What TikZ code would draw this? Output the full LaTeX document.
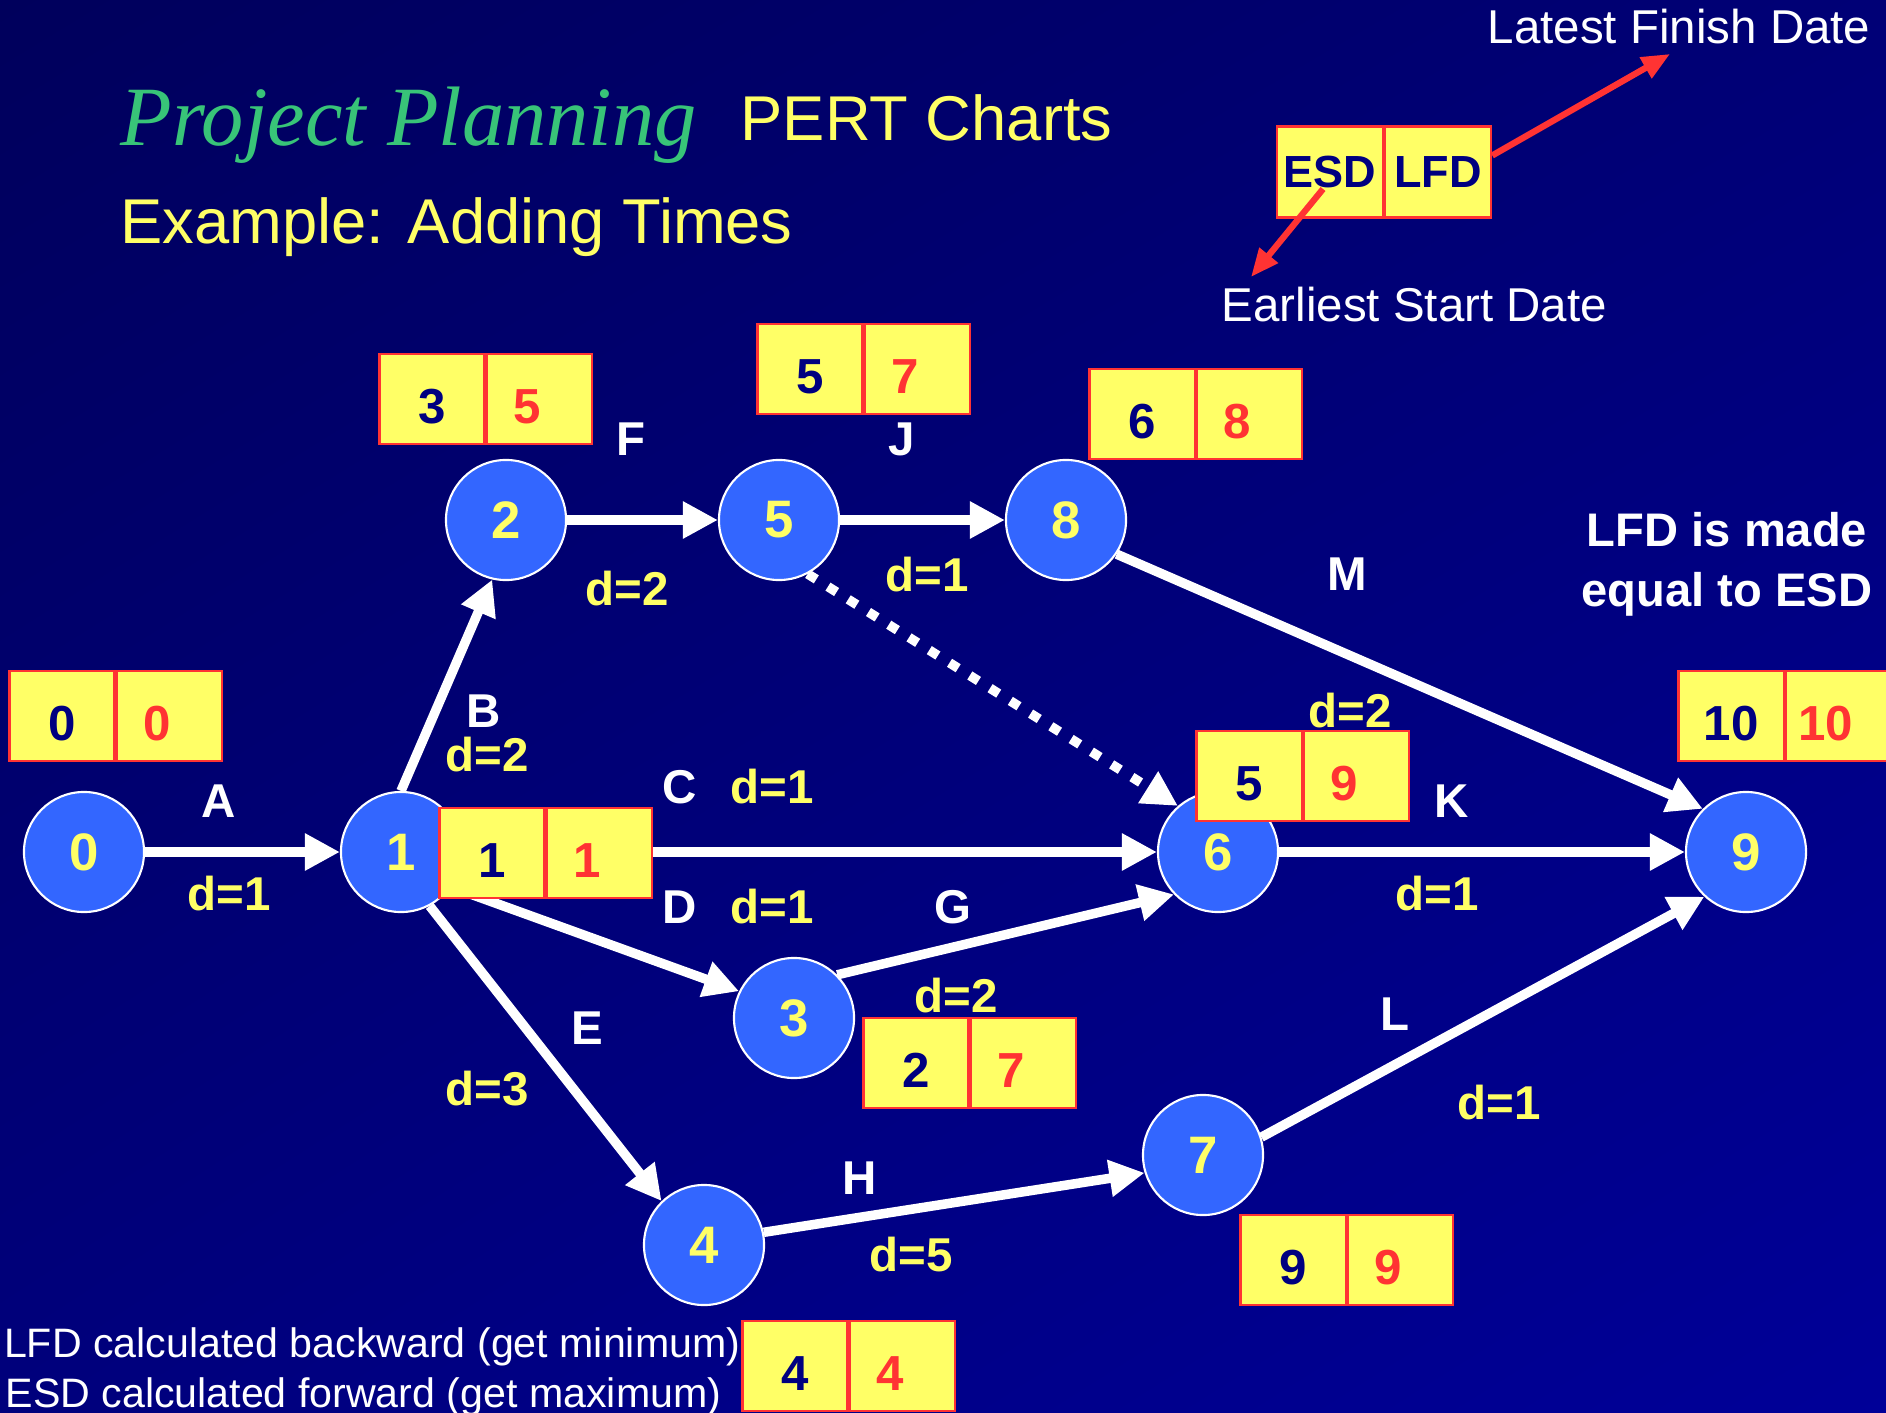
\documentclass[tikz,border=0pt]{standalone}
\usepackage{fontspec}
\setmainfont{Liberation Sans}
\newfontfamily\titleserif{Liberation Serif}
\usetikzlibrary{arrows.meta,positioning,shadings}
\definecolor{bgTopLeft}{RGB}{0,0,92}
\definecolor{bgTopRight}{RGB}{0,0,118}
\definecolor{bgBottomLeft}{RGB}{0,0,124}
\definecolor{bgBottomRight}{RGB}{0,0,152}
\definecolor{eventBlue}{RGB}{51,102,255}
\definecolor{boxYellow}{RGB}{255,255,102}
\definecolor{boxRed}{RGB}{255,51,51}
\definecolor{esdNavy}{RGB}{0,0,128}
\definecolor{titleGreen}{RGB}{56,196,120}
\newcommand{\pertsize}[1]{\fontsize{#1pt}{#1pt}\selectfont}
\tikzset{
  event/.style={circle, draw=white, line width=0.6pt, fill=eventBlue, minimum size=1.2cm, inner sep=0pt, text=boxYellow, font=\pertsize{15}\bfseries},
  cell/.style={rectangle, draw=boxRed, line width=0.6pt, fill=boxYellow, minimum width=1.05cm, minimum height=0.9cm, inner sep=0pt, text height=14pt, text depth=0pt, font=\pertsize{14}\bfseries},
  esd/.style={cell, text=esdNavy},
  lfd/.style={cell, text=boxRed, execute at end node={\hspace{7pt}}},
  legcell/.style={cell, text=esdNavy, minimum width=1.06cm, minimum height=0.91cm, text height=9pt, font=\pertsize{12.8}\bfseries},
  activity/.style={draw=white, line width=2.7pt, -{Triangle[length=10pt,width=10pt]}},
  dummy/.style={activity, line cap=butt, dash pattern=on 2.9pt off 3.9pt},
  pointer/.style={draw=boxRed, line width=1.8pt, -{Triangle[length=8pt,width=6.5pt]}},
  actname/.style={text=white, font=\pertsize{13.5}\bfseries},
  duration/.style={text=boxYellow, font=\pertsize{13.5}\bfseries},
  slidetext/.style={text=white, inner sep=0pt, font=\pertsize{13.5}},
}

\begin{document}
\begin{tikzpicture}[x=0.01cm, y=-0.01cm]
  \useasboundingbox (0,0) rectangle (1886,1413);
  \clip (0,0) rectangle (1886,1413);
  \shade[upper left=bgTopLeft, upper right=bgTopRight, lower left=bgBottomLeft, lower right=bgBottomRight] (0,0) rectangle (1886,1413);

  \node[event] (n0) at (84,852) {0};
  \node[event] (n1) at (401,852) {1};
  \node[event] (n2) at (506,520) {2};
  \node[event] (n5) at (779,520) {5};
  \node[event] (n8) at (1066,520) {8};
  \node[event] (n6) at (1218,852) {6};
  \node[event] (n9) at (1746,852) {9};
  \node[event] (n3) at (794,1018) {3};
  \node[event] (n4) at (704,1245) {4};
  \node[event] (n7) at (1203,1155) {7};

  \draw[activity] (n0) -- (n1);
  \draw[activity] (n1.90) -- (n2.257);
  \draw[activity] (n1) -- (n6);
  \draw[activity] (n1.325) -- (n3.154);
  \draw[activity] (n1.298) -- (n4.134);
  \draw[activity] (n2) -- (n5);
  \draw[activity] (n5) -- (n8);
  \draw[dummy] (n5.298) -- (n6.131);
  \draw[activity] (n3.45) -- (n6.224);
  \draw[activity] (n4.12) -- (n7.197);
  \draw[activity] (n6) -- (n9);
  \draw[activity] (n7.17) -- (n9.227);
  \draw[activity] (n8.326) -- (n9.135);

  \node[esd] (t0e) at (62,716) {0};    \node[lfd, right=0pt of t0e] (t0l) {0};
  \node[esd] (t1e) at (492,853) {1};   \node[lfd, right=0pt of t1e] (t1l) {1};
  \node[esd] (t2e) at (432,399) {3};   \node[lfd, right=0pt of t2e] (t2l) {5};
  \node[esd] (t3e) at (916,1063) {2};  \node[lfd, right=0pt of t3e] (t3l) {7};
  \node[esd] (t4e) at (795,1366) {4};  \node[lfd, right=0pt of t4e] (t4l) {4};
  \node[esd] (t5e) at (810,369) {5};   \node[lfd, right=0pt of t5e] (t5l) {7};
  \node[esd] (t6e) at (1249,776) {5};  \node[lfd, right=0pt of t6e] (t6l) {9};
  \node[esd] (t7e) at (1293,1260) {9}; \node[lfd, right=0pt of t7e] (t7l) {9};
  \node[esd] (t8e) at (1142,414) {6};  \node[lfd, right=0pt of t8e] (t8l) {8};
  \node[esd] (t9e) at (1731,716) {10}; \node[lfd, right=0pt of t9e] (t9l) {10};

  \node[actname] (lA) at (219,801) {A};
  \node[actname] (lB) at (484,711) {B};
  \node[actname] (lC) at (680,787) {C};
  \node[actname] (lD) at (680,907) {D};
  \node[actname] (lE) at (587,1028) {E};
  \node[actname] (lF) at (631,439) {F};
  \node[actname] (lG) at (953,907) {G};
  \node[actname] (lH) at (860,1178) {H};
  \node[actname] (lJ) at (902,439) {J};
  \node[actname] (lK) at (1452,801) {K};
  \node[actname] (lL) at (1395,1014) {L};
  \node[actname] (lM) at (1347,574) {M};

  \node[duration] (dA) at (229,894) {d=1};
  \node[duration] (dB) at (487,755) {d=2};
  \node[duration] (dC) at (772,787) {d=1};
  \node[duration] (dD) at (772,907) {d=1};
  \node[duration] (dE) at (487,1089) {d=3};
  \node[duration] (dF) at (627,589) {d=2};
  \node[duration] (dG) at (956,996) {d=2};
  \node[duration] (dH) at (911,1255) {d=5};
  \node[duration] (dJ) at (927,575) {d=1};
  \node[duration] (dK) at (1437,894) {d=1};
  \node[duration] (dL) at (1499,1103) {d=1};
  \node[duration] (dM) at (1350,711) {d=2};

  \node[anchor=base west, inner sep=0pt, text=titleGreen, font=\titleserif\itshape\pertsize{24}] (title) at (120,146) {Project Planning};
  \node[anchor=base west, inner sep=0pt, text=boxYellow, font=\pertsize{18}] (subtitle) at (740,141) {PERT Charts};
  \node[anchor=base west, inner sep=0pt, text=boxYellow, font=\pertsize{18}] (example) at (120,244) {Example: Adding Times};

  \node[legcell] (legE) at (1330,172) {ESD};
  \node[legcell, right=0pt of legE] (legL) {LFD};
  \node[slidetext, anchor=base west] (lfdName) at (1487,44) {Latest Finish Date};
  \node[slidetext, anchor=base west] (esdName) at (1221,322) {Earliest Start Date};
  \coordinate (lfdTip) at (1670,54);
  \coordinate (esdFrom) at (1323,189);
  \coordinate (esdTip) at (1251,277);
  \draw[pointer] (legL.17) -- (lfdTip);
  \draw[pointer] (esdFrom) -- (esdTip);

  \node[actname, align=center, font=\fontsize{13.4pt}{17pt}\selectfont\bfseries] (note) at (1727,564) {LFD is made\\equal to ESD};
  \node[slidetext, anchor=base east, font=\pertsize{11.7}] (backward) at (741,1357) {LFD calculated backward (get minimum)};
  \node[slidetext, anchor=base east, font=\pertsize{11.7}] (forward) at (722,1407) {ESD calculated forward (get maximum)};
\end{tikzpicture}
\end{document}
